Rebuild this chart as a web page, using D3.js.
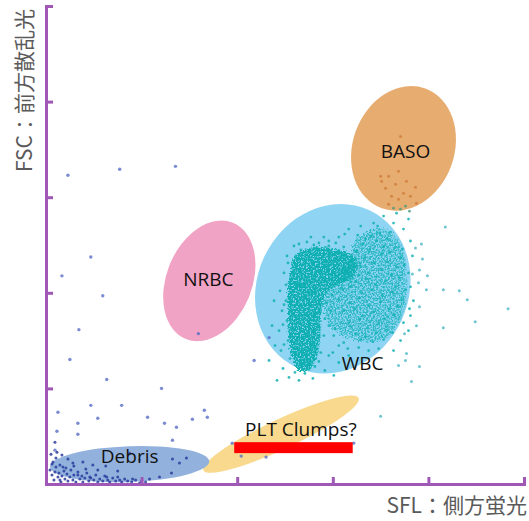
<!DOCTYPE html>
<html>
<head>
<meta charset="utf-8">
<script src="https://cdn.jsdelivr.net/npm/d3@7"></script>
<style>
  html, body { margin: 0; padding: 0; background: #fff; }
  svg { display: block; }
</style>
</head>
<body>
<svg id="chart" width="529" height="521"></svg>
<script>
// SFL (side fluorescence) vs FSC (forward scatter) scattergram, channel units 0–240

const axisMax = 240;
const tickValues = [48, 96, 144, 192, 240];
const xTitle = "SFL：側方蛍光";
const yTitle = "FSC：前方散乱光";

// Gates: centre, semi-axes (channels) and tilt (degrees)
const gateNames  = ["WBC", "BASO", "NRBC", "PLT Clumps?", "Debris"];
const gateCx     = [144, 179.5, 82, 118, 42];
const gateCy     = [98, 168.5, 102, 25, 10];
const gateRx     = [38, 25.5, 21.5, 43, 40];
const gateRy     = [43.5, 32, 31.5, 7.5, 9];
const gateAngle  = [25, 20, 22, -25, -2];
const labelX     = [159, 180.5, 81.5, 128, 42];
const labelY     = [61, 167, 103, 27.5, 14];

// Masked strip under the PLT Clumps label (channel extent)
const maskX = [94.5, 154];
const maskY = [15.5, 21];

// High-density WBC areas (outlines)
const wbcCoreOutline = [
  [123,108],[125,114],[129.5,117.5],[136,119],[143.5,118.5],[150,117],[155.5,113.5],
  [156.5,108],[153,103],[147,100],[142,97],[139.5,92],[138,83],[137.5,72],[136,63],
  [132,57],[127,57],[123.5,64],[122,74.5],[121.5,87],[121.5,98]
];
const wbcRightOutline = [
  [154.5,120.5],[162,127],[169.5,128],[176.5,123.5],[180,114.5],[181.5,102],[180.5,89.5],
  [176.5,79.5],[169.5,72.5],[161,71.5],[150,74],[142.5,80],[139.5,90],[143,99],[150,105.5],
  [153,111]
];

// Individual WBC events
const wbcEvents = [
  [163,124.5],[167.5,126],[171.5,123],[159,120.5],[166,122],[169.5,119],[175,118.5],
  [156,116.5],[162.5,117.5],[168.5,115.5],[172.5,116.5],[178,113.5],[154,112.5],[160,113.5],
  [164.5,111],[171.5,111.5],[176,109],[180,110],[151.5,108],[158,109],[162,106],[168.5,107.5],
  [173.5,105],[177.5,103.5],[150.5,103.5],[155.5,101.5],[161,103],[165.5,100],[170.5,102],
  [175.5,99],[180.5,97.5],[149,97.5],[153,99],[158.5,96],[163.5,97.5],[169,94.5],[174,96.5],
  [178.5,92.5],[147,92.5],[152.5,91],[157.5,93.5],[162,89.5],[168,91.5],[172.5,88],[176.5,89.5],
  [149.5,87],[155,88],[159,84.5],[164.5,86.5],[170,83],[175,85],[152,81],[157.5,82.5],
  [161.5,78.5],[167,80.5],[171.5,77.5],[155.5,75.5],[160.5,74],[166,76],[169.5,72.5],
  [152,128],[147,124],[158,129.5],[164.5,131],[174.5,131],[179.5,128],[169.5,134.5],[176,136],
  [182,133],[183,122],[184,114.5],[142,122],[137,121],[133,124],[127,120.5],[184.5,92],
  [183,84.5],[182,77],[178,72],[174.5,67],[167,68],[162,67],[157,68.5],[149.5,71],[144.5,74.5],
  [142,79.5],[143,87],[147,69.5],[152,64.5],[142,64.5],[140,57],[144.5,54.5],[147,61],[134,53],
  [127,52],[122,53.5],[119,58],[118,67],[117,77],[118.5,87],[117.5,97],[119.5,106],[121,114.5],
  [124.5,119.5],[114.5,92],[113.5,79.5],[115,69.5],[112,62],[116,52],
  [121.5,111],[123,102],[120.5,92],[121,82],[121.5,72],[122.5,63],[125,56],[130,55.5],[135,59],
  [138,66],[139.5,74.5],[140,83],[141,91],[143.5,95],[148.5,98.5],[153,101.5],[157,105],
  [157.5,111],[155.5,117],[149.5,119],[142,119.5],[134.5,120],[128,117.5],[125.5,114.5],
  [145,113],[151,111],[139,114],[133,112],[147,106],[142.5,103],[150.5,114.5],[137.5,107],
  [131,121.5],[139.5,124],[145.5,121],[160.5,123],[156.5,125],[150,125.5],[173,126.5],
  [166.5,129.5],[179,118],[182,106],[183,99],[182.5,88],[179.5,81],[174,76],[164,71.5],
  [158,72.5],[151.5,68],[145,78],[144,66],[137,61.5],[132.5,62],[128.5,60],[119.5,70],
  [119,80],[119.5,90],[120.5,100],[141.5,110],[146.5,116.5]
];

// Stray events to the right of the WBC gate
const wbcStrayEvents = [
  [200.5,129],[188.5,120.5],[191.5,104.5],[199.5,97.5],[207.5,97],[211.5,92.5],[199.5,78.5],
  [215.5,81.5],[232,88],[187.5,107.5],[187,101],[187.5,89],[186,79.5],[180,75.5],[187.5,59],
  [180.5,62],[177,59.5],[168,34],[184,105.5],[191,97.5],[181,65.5],[183.5,51.5],[189,113],
  [185.5,118.5]
];

// BASO events
const basoEvents = [
  [178,174.5],[177,157],[172,154.5],[181,152],[175.5,150.5],[185.5,149],[170.5,148.5],
  [179.5,146],[173.5,144.5],[183,144.5],[177,143],[172,140.5],[186,141],[168.5,152],[168,154.5]
];
const basoEdgeEvents = [[174.5,138.5],[178,138],[180.5,139.5],[182.5,137]];

// Scattered low-fluorescence events
const strayEvents = [
  [11,155],[37,158],[65,159.5],[22.5,114],[8,104.5],[28.5,94.5],[16.5,77.5],[12,62.5],
  [30.5,52.5],[58,48],[22.5,39.5],[38,39.5],[6,36],[16,30.5],[26,33],[16,25],[51,33.5],
  [59.5,30.5],[65.5,28.5],[73.5,32.5],[79.5,37],[81,33.5],[5.5,26.5],[4.5,17],[93.5,20.5],
  [98,14],[110.5,13.5],[47,12],[63.5,22],[76.5,75.5],[154.5,20.5],[104.5,62],[112,73.5]
];

// Debris events near the origin
const debrisEvents = [
  [4.5,21],[5.5,16],[3.5,11],[8.5,8.5],[13.5,10.5],[18.5,11],[23.5,9.5],[16,4.5],[22,3.5],
  [30.5,3.5],[37,2],[43.5,2.5],[47,0.5],[52,2.5],[57,3.5],[63,5.5],[67,10.5],[63.5,12.5],
  [70.5,13],[42,15.5],[7,2],
  [2,7],[3,4.5],[4,2],[4.5,6],[5,8.5],[6,3.5],[6.5,5.5],[7.5,1],[8,4],[9,6.5],[9.5,2.5],
  [10.5,5],[11,1.5],[12,3.5],[12.5,7],[13.5,2],[14,4.5],[15,1],[16,6],[17,2.5],[18,4],
  [18.5,1],[19.5,3],[20.5,5.5],[21.5,1.5],[22.5,3],[24,2],[25,4.5],[26,1],[27,2.5],[28.5,1.5],
  [29.5,4],[31,2],[32,1],[33.5,3],[35,1.5],[36,3.5],[38,1],[39.5,2.5],[41,1.5],[43,1],[45,2],
  [48,1.5],[50,1],[3,10],[7,9.5],[10,8],[14,9],[20,7.5],[26,7],[5,13],[11,12.5],[2.5,15],
  [8,14.5],[30,9],[36,6.5]
];

// ---- styles ----
const gateFill = {
  "WBC": "#8fd4f2",
  "BASO": "#e6ac70",
  "NRBC": "#f1a3c5",
  "PLT Clumps?": "#f9d98d",
  "Debris": "#92b2dd"
};
const axisColor = "#a058b6";
const tealColor = "#12b0b4";

const svg = d3.select("#chart");
const x = d3.scaleLinear().domain([0, axisMax]).range([46, 524]);
const y = d3.scaleLinear().domain([0, axisMax]).range([484, 6]);

const defs = svg.append("defs");

// grainy fill for dense event clouds: roughened edge plus speckle holes
function grainFilter(id, seed, disp, alphaGain, alphaOffset) {
  const f = defs.append("filter").attr("id", id)
    .attr("x", "-15%").attr("y", "-15%").attr("width", "130%").attr("height", "130%");
  f.append("feTurbulence").attr("type", "fractalNoise").attr("baseFrequency", 0.6)
    .attr("numOctaves", 2).attr("seed", seed).attr("result", "noise");
  f.append("feDisplacementMap").attr("in", "SourceGraphic").attr("in2", "noise")
    .attr("scale", disp).attr("xChannelSelector", "R").attr("yChannelSelector", "G")
    .attr("result", "disp");
  f.append("feColorMatrix").attr("in", "noise").attr("type", "matrix")
    .attr("values", `0 0 0 0 0  0 0 0 0 0  0 0 0 0 0  ${alphaGain} 0 0 0 ${alphaOffset}`)
    .attr("result", "mask");
  f.append("feComposite").attr("in", "disp").attr("in2", "mask").attr("operator", "in");
}
grainFilter("grainCore", 4, 7, 5, -1.4);
grainFilter("grainRight", 9, 9, 4, -1.5);

// gates, drawn in layering order
const gates = gateNames.map((name, i) => ({
  name, cx: gateCx[i], cy: gateCy[i], rx: gateRx[i], ry: gateRy[i],
  angle: gateAngle[i], lx: labelX[i], ly: labelY[i]
}));
const gateByName = new Map(gates.map(g => [g.name, g]));

const gGates = svg.append("g");
function drawGate(name) {
  const g = gateByName.get(name);
  const cx = x(g.cx), cy = y(g.cy);
  gGates.append("ellipse")
    .attr("cx", cx).attr("cy", cy)
    .attr("rx", x(g.cx + g.rx) - cx)
    .attr("ry", cy - y(g.cy + g.ry))
    .attr("transform", `rotate(${g.angle},${cx},${cy})`)
    .attr("fill", gateFill[name]);
}

const gEvents = svg.append("g");
function dots(data, color, r, op) {
  gEvents.selectAll(null).data(data).join("circle")
    .attr("cx", d => x(d[0])).attr("cy", d => y(d[1]))
    .attr("r", r).attr("fill", color).attr("fill-opacity", op);
}

drawGate("NRBC");
drawGate("WBC");

const area = d3.line().x(d => x(d[0])).y(d => y(d[1])).curve(d3.curveCatmullRomClosed);
gGates.append("path").attr("d", area(wbcRightOutline))
  .attr("fill", tealColor).attr("fill-opacity", 0.8).attr("filter", "url(#grainRight)");
gGates.append("path").attr("d", area(wbcCoreOutline))
  .attr("fill", "#0fafb0").attr("filter", "url(#grainCore)");

drawGate("BASO");
drawGate("PLT Clumps?");
drawGate("Debris");

dots(wbcEvents, tealColor, 1.4, 0.85);
dots(wbcStrayEvents, "#3fb3c0", 1.5, 0.75);
dots(basoEvents, "#d27f3c", 1.5, 0.85);
dots(basoEdgeEvents, "#4a9a80", 1.4, 0.8);
dots(strayEvents, "#5a6ec6", 1.7, 0.8);
dots(debrisEvents, "#2b3c9e", 1.5, 0.85);

// axes with inward ticks
const xAxis = d3.axisBottom(x).tickValues(tickValues).tickSizeInner(-7).tickSizeOuter(0).tickFormat("");
const yAxis = d3.axisLeft(y).tickValues(tickValues).tickSizeInner(-7).tickSizeOuter(0).tickFormat("");

function styleAxis(sel) {
  sel.attr("color", axisColor);
  sel.select(".domain").attr("stroke-width", 3).attr("stroke-linecap", "square");
  sel.selectAll(".tick line").attr("stroke-width", 3);
}
svg.append("g").attr("transform", `translate(0,${y(0)})`).call(xAxis).call(styleAxis);
svg.append("g").attr("transform", `translate(${x(0)},0)`).call(yAxis).call(styleAxis);

// gate labels
svg.append("g").selectAll("text").data(gates).join("text")
  .attr("x", d => x(d.lx)).attr("y", d => y(d.ly))
  .attr("text-anchor", "middle").attr("dominant-baseline", "central")
  .attr("font-family", "'Open Sans', 'Noto Sans', sans-serif")
  .attr("font-size", 19).attr("fill", "#111")
  .text(d => d.name);

// red mask strip
svg.append("rect")
  .attr("x", x(maskX[0])).attr("y", y(maskY[1]))
  .attr("width", x(maskX[1]) - x(maskX[0]))
  .attr("height", y(maskY[0]) - y(maskY[1]))
  .attr("fill", "#ff0000");

// axis titles
svg.append("text")
  .attr("x", 527).attr("y", 513).attr("text-anchor", "end")
  .attr("font-family", "'Noto Sans CJK JP', sans-serif")
  .attr("font-size", 21).attr("fill", "#5a5a5a")
  .text(xTitle);
svg.append("text")
  .attr("transform", "translate(32,9) rotate(-90)").attr("text-anchor", "end")
  .attr("font-family", "'Noto Sans CJK JP', sans-serif")
  .attr("font-size", 21).attr("fill", "#5a5a5a")
  .text(yTitle);
</script>
</body>
</html>
